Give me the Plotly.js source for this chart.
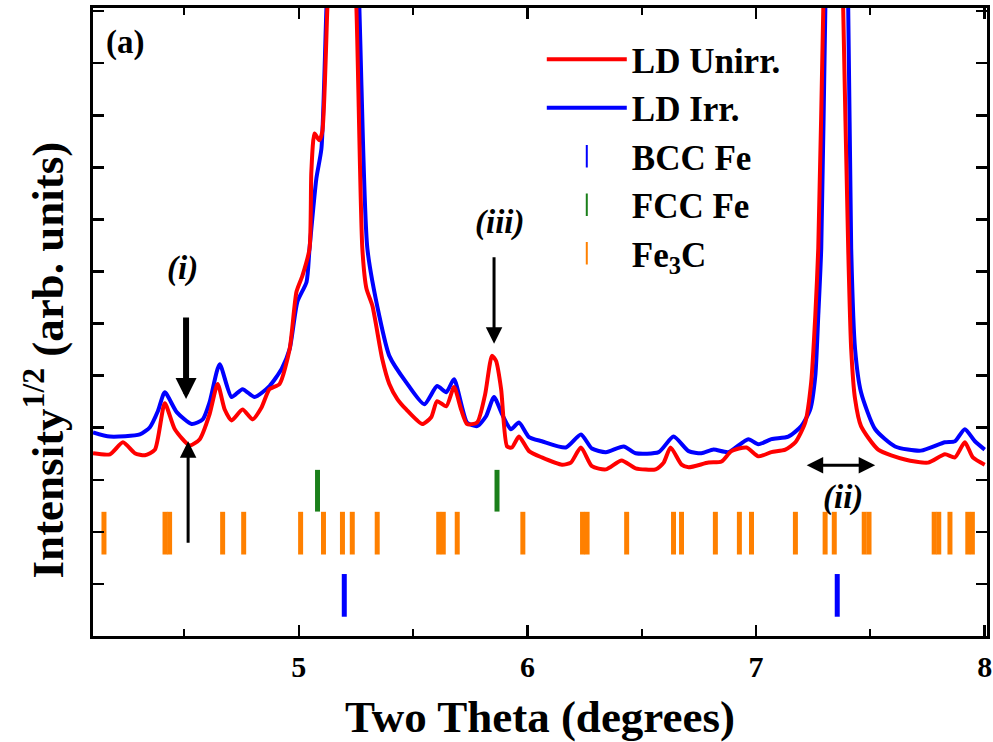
<!DOCTYPE html>
<html>
<head>
<meta charset="utf-8">
<script src="https://cdn.plot.ly/plotly-3.0.1.min.js"></script>
<style>html,body{margin:0;padding:0;background:#fff;}#chart{width:993px;height:742px;}</style>
</head>
<body>
<div id="chart"></div>
<script>
// ---- Data ----
const unirrX = [4.100,4.174,4.231,4.283,4.327,4.371,4.414,4.458,4.523,4.567,4.610,4.645,4.676,4.706,4.754,4.798,4.837,4.872,4.916,4.960,4.990,5.016,5.047,5.055,5.069,5.090,5.103,5.125,5.143,5.187,5.230,5.252,5.278,5.296,5.322,5.365,5.396,5.431,5.470,5.540,5.579,5.605,5.645,5.679,5.710,5.736,5.780,5.815,5.845,5.863,5.885,5.911,5.932,5.963,6.007,6.063,6.151,6.190,6.234,6.282,6.343,6.412,6.473,6.561,6.596,6.626,6.674,6.705,6.792,6.849,6.892,6.958,7.010,7.067,7.128,7.172,7.215,7.241,7.259,7.272,7.294,7.337,7.381,7.403,7.416,7.433,7.459,7.534,7.651,7.752,7.826,7.870,7.913,7.948,8.000];
const unirrY = [3.51,3.49,3.72,3.51,3.47,3.58,4.47,3.97,3.66,3.78,4.26,4.84,4.35,4.14,4.35,4.16,4.39,4.74,4.84,5.51,6.61,6.92,7.44,8.92,9.65,9.52,9.69,12.06,14.0,20.0,14.0,12.06,7.44,6.67,6.34,5.32,4.84,4.55,4.35,4.07,4.20,4.51,4.41,4.78,4.35,4.07,4.10,4.64,5.38,5.28,4.74,3.64,3.62,3.83,3.55,3.43,3.29,3.33,3.62,3.26,3.20,3.37,3.22,3.20,3.33,3.62,3.29,3.24,3.33,3.35,3.55,3.62,3.45,3.53,3.58,3.72,4.10,4.87,6.15,7.44,12.06,22.0,12.06,7.44,5.51,4.55,4.03,3.58,3.39,3.33,3.49,3.43,3.72,3.43,3.29];

const irrX = [4.100,4.174,4.305,4.349,4.384,4.414,4.466,4.532,4.580,4.610,4.654,4.706,4.754,4.807,4.872,4.925,4.960,4.994,5.034,5.047,5.077,5.099,5.121,5.191,5.265,5.274,5.300,5.352,5.396,5.470,5.549,5.605,5.645,5.679,5.736,5.780,5.819,5.854,5.889,5.928,5.963,6.007,6.063,6.168,6.234,6.282,6.343,6.421,6.473,6.574,6.639,6.705,6.761,6.814,6.879,6.966,7.010,7.067,7.141,7.198,7.237,7.259,7.272,7.285,7.303,7.345,7.403,7.416,7.433,7.459,7.521,7.608,7.721,7.826,7.870,7.913,7.957,8.000];
const irrY = [3.91,3.83,3.87,4.01,4.32,4.68,4.30,4.07,4.16,4.49,5.22,4.59,4.74,4.59,4.80,5.13,5.51,6.42,6.80,7.44,8.79,9.36,12.06,20.0,12.06,10.58,7.44,6.15,5.38,4.87,4.45,4.80,4.68,4.93,4.10,4.03,4.22,4.59,4.26,3.97,4.10,3.82,3.74,3.62,3.87,3.60,3.53,3.64,3.51,3.53,3.83,3.55,3.51,3.58,3.53,3.78,3.68,3.78,3.83,4.03,4.35,4.99,6.15,7.44,12.06,22.0,12.06,7.44,5.51,4.68,3.97,3.64,3.56,3.72,3.74,3.97,3.74,3.58];

const bccPeaks = [5.199, 7.355];
const fccPeaks = [5.082, 5.867];
const fe3cPeaks = [4.148,4.415,4.435,4.667,4.759,5.008,5.108,5.191,5.234,5.343,5.612,5.632,5.693,5.980,6.241,6.261,6.434,6.639,6.674,6.822,6.927,6.980,7.172,7.302,7.342,7.473,7.494,7.779,7.799,7.848,7.926,7.946];

const seriesNames = ['LD Unirr.', 'LD Irr.', 'BCC Fe', 'FCC Fe', 'Fe<sub>3</sub>C'];
const xTickVals = [5, 6, 7, 8];
const xTickText = ['5', '6', '7', '8'];

// ---- Styling constants ----
const RED = '#ff0000', BLUE = '#0000ff', GREEN = '#1a7f1a', ORANGE = '#ff8000';
const SERIF = 'Liberation Serif, Times New Roman, serif';
const rowBCC = 0.78, rowFCC = 2.79, rowFe3C = 1.975;

function tickTrace(xs, row, color, size, width) {
  return {
    type: 'scatter', mode: 'markers', x: xs, y: xs.map(() => row),
    marker: {symbol: 'line-ns-open', size: size, color: color, line: {color: color, width: width}},
    showlegend: false, hoverinfo: 'x', cliponaxis: false
  };
}
function legendOnly(name, color, rank) {
  return {
    type: 'scatter', mode: 'markers', x: [null], y: [null], name: name, legendrank: rank,
    marker: {symbol: 'line-ns-open', size: 16, color: color, line: {color: color, width: 2}}
  };
}

const traces = [
  {type: 'scatter', mode: 'lines', x: irrX, y: irrY, name: seriesNames[1], legendrank: 2,
   line: {color: BLUE, width: 4, shape: 'spline', smoothing: 0.6}},
  {type: 'scatter', mode: 'lines', x: unirrX, y: unirrY, name: seriesNames[0], legendrank: 1,
   line: {color: RED, width: 4, shape: 'spline', smoothing: 0.6}},
  tickTrace(fe3cPeaks, rowFe3C, ORANGE, 30.5, 5),
  tickTrace(fccPeaks, rowFCC, GREEN, 29.8, 5),
  tickTrace(bccPeaks, rowBCC, BLUE, 30.5, 5),
  legendOnly(seriesNames[2], BLUE, 3),
  legendOnly(seriesNames[3], GREEN, 4),
  legendOnly(seriesNames[4], ORANGE, 5)
];

const axisCommon = {
  showgrid: false, zeroline: false, showline: true, linecolor: '#000', linewidth: 3,
  mirror: 'ticks', ticks: 'inside', tickcolor: '#000', tickwidth: 2.5, ticklen: 11
};

const layout = {
  width: 993, height: 742,
  margin: {l: 93, r: 6, t: 8, b: 106},
  paper_bgcolor: '#fff', plot_bgcolor: '#fff',
  font: {family: SERIF, color: '#000'},
  xaxis: Object.assign({}, axisCommon, {
    range: [4.1, 8.01],
    tickmode: 'array', tickvals: xTickVals, ticktext: xTickText,
    tickfont: {family: SERIF, size: 30, weight: 'bold', color: '#000'},
    ticklabelstandoff: 2,
    minor: {dtick: 0.5, tick0: 0, ticks: 'inside', ticklen: 7, tickwidth: 2, tickcolor: '#000'},
    title: {text: '<b>Two Theta (degrees)</b>', font: {family: SERIF, size: 45, color: '#000'}, standoff: 20}
  }),
  yaxis: Object.assign({}, axisCommon, {
    range: [0, 12.06], dtick: 1, tick0: 0, showticklabels: false
  }),
  legend: {
    x: 0.502, y: 0.965, xanchor: 'left', yanchor: 'top',
    bgcolor: 'rgba(0,0,0,0)', borderwidth: 0,
    font: {family: SERIF, size: 35, weight: 'bold', color: '#000'},
    itemwidth: 80, traceorder: 'normal', tracegroupgap: 0
  },
  annotations: [
    {xref: 'paper', yref: 'paper', x: -0.054, y: 0.44, xanchor: 'center', yanchor: 'middle', textangle: -90,
     text: '<b>Intensity<sup>1/2</sup> (arb. units)</b>', showarrow: false, font: {family: SERIF, size: 45, color: '#000'}},
    {xref: 'x', yref: 'y', x: 4.24, y: 11.39, text: '<b>(a)</b>', showarrow: false, font: {family: SERIF, size: 33, color: '#000'}},
    {xref: 'x', yref: 'y', x: 4.493, y: 7.05, text: '<b><i>(i)</i></b>', showarrow: false, font: {family: SERIF, size: 33, color: '#000'}},
    {xref: 'x', yref: 'y', x: 5.876, y: 7.95, text: '<b><i>(iii)</i></b>', showarrow: false, font: {family: SERIF, size: 33, color: '#000'}},
    {xref: 'x', yref: 'y', x: 7.381, y: 2.66, text: '<b><i>(ii)</i></b>', showarrow: false, font: {family: SERIF, size: 33, color: '#000'}},
    {xref: 'x', yref: 'y', x: 4.507, y: 4.55, text: '', showarrow: true, ax: 0, ay: -83, arrowhead: 2, arrowsize: 0.7, arrowwidth: 6, arrowcolor: '#000'},
    {xref: 'x', yref: 'y', x: 4.516, y: 3.74, text: '', showarrow: true, ax: 0, ay: 103, arrowhead: 2, arrowsize: 1.1, arrowwidth: 3, arrowcolor: '#000'},
    {xref: 'x', yref: 'y', x: 5.854, y: 5.61, text: '', showarrow: true, ax: 0, ay: -88, arrowhead: 2, arrowsize: 1.1, arrowwidth: 3, arrowcolor: '#000'},
    {xref: 'x', yref: 'y', x: 7.521, y: 3.28, text: '', showarrow: true, ax: -70, ay: 0, arrowhead: 2, startarrowhead: 2, arrowside: 'end+start', arrowsize: 1.1, startarrowsize: 1.1, arrowwidth: 3, arrowcolor: '#000'}
  ]
};

Plotly.newPlot('chart', traces, layout, {displayModeBar: false, staticPlot: true});
</script>
</body>
</html>
